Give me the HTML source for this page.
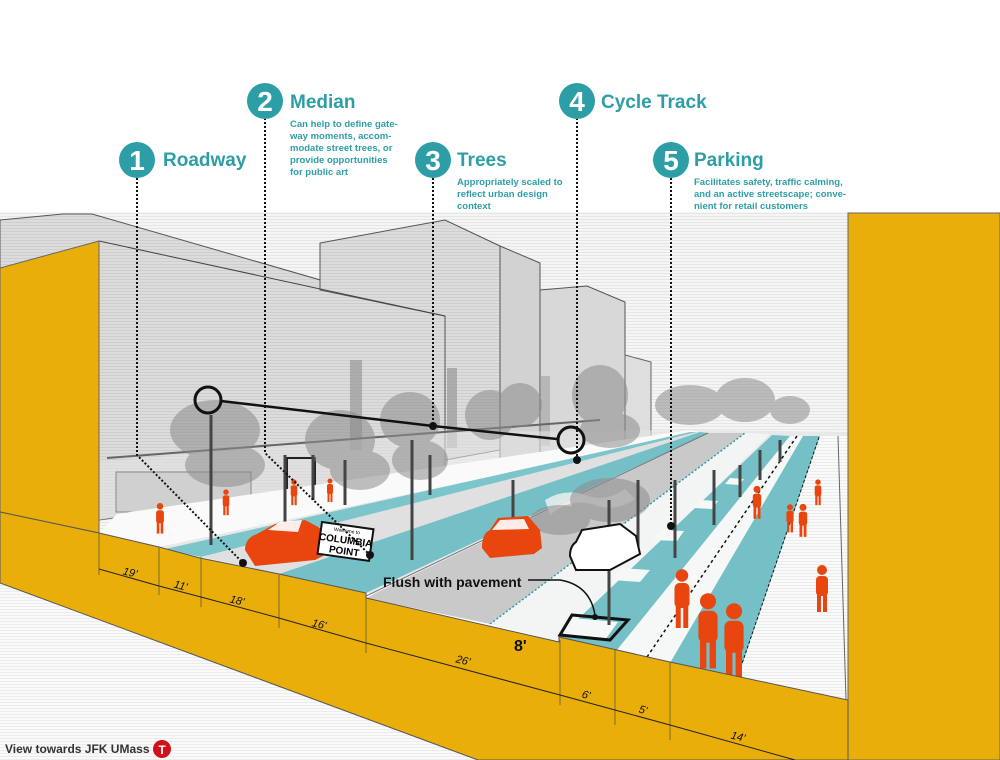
<!DOCTYPE html>
<html><head><meta charset="utf-8"><style>
html,body{margin:0;padding:0;background:#fff;}
svg{display:block;}
.t{font-family:"Liberation Sans",Arial,sans-serif;}
</style></head><body>
<svg width="1000" height="760" viewBox="0 0 1000 760" xmlns="http://www.w3.org/2000/svg">
<defs>
<pattern id="str" width="4" height="3" patternUnits="userSpaceOnUse"><rect width="4" height="3" fill="#f5f5f5"/><rect width="4" height="1" fill="#e6e6e6"/></pattern>
<pattern id="strb" width="4" height="3" patternUnits="userSpaceOnUse"><rect width="4" height="3" fill="#dcdcdc"/><rect width="4" height="1" fill="#cecece"/></pattern>
<pattern id="strw" width="4" height="3" patternUnits="userSpaceOnUse"><rect width="4" height="3" fill="#fafafa"/><rect width="4" height="1" fill="#ececec"/></pattern>
<g id="p"><circle cx="0" cy="-9" r="2.5"/><rect x="-3" y="-6" width="6" height="10" rx="2"/><rect x="-2.5" y="3" width="2" height="9"/><rect x="0.5" y="3" width="2" height="9"/></g>
</defs>
<rect width="1000" height="760" fill="#fff"/>
<rect x="0" y="212" width="848" height="330" fill="url(#str)"/>
<polygon points="0,268 0,220 63,214 92,214 445,316 445,470 99,520 0,520" fill="url(#strb)" stroke="#555" stroke-width="1"/>
<polygon points="320,243 445,220 500,246 500,450 445,460 445,316 320,290" fill="url(#strb)" stroke="#555" stroke-width="1"/>
<polygon points="500,246 540,263 540,455 500,460" fill="#d2d2d2" stroke="#555" stroke-width="1"/>
<polygon points="540,290 587,286 625,302 625,445 540,452" fill="#d8d8d8" stroke="#555" stroke-width="1"/>
<polygon points="625,355 651,362 651,440 625,443" fill="#dedede" stroke="#666" stroke-width="1"/>
<line x1="99" y1="241" x2="445" y2="316" stroke="#444"/>
<rect x="350" y="360" width="12" height="90" fill="#999" opacity=".7"/>
<rect x="447" y="368" width="10" height="80" fill="#999" opacity=".7"/>
<rect x="541" y="376" width="9" height="70" fill="#aaa" opacity=".7"/>
<polygon points="99,462 445,432 690,430 99,520" fill="#e2e2e2" opacity=".6"/>
<line x1="107" y1="458" x2="600" y2="420" stroke="#666" stroke-width="2"/>
<rect x="116" y="472" width="135" height="40" fill="#d0d0d0" stroke="#888" stroke-width="1"/>
<rect x="287" y="458" width="28" height="38" fill="none" stroke="#222" stroke-width="2"/>
<polygon points="287,496 315,494 355,505 300,510" fill="#2e9ea6"/>
<polygon points="99,533 117,514 690,430 848,432 848,700 99,533" fill="#e8e8e8"/>
<polygon points="99,533 117,514 690,430 700,432 159,547" fill="#fafafa"/>
<polygon points="165,549 201,557 697,432 690,432" fill="#7cc6cb"/>
<polygon points="201,557 279,574 700,432 697,432" fill="#e0e0e0"/>
<polygon points="279,574 366,593 708,433 700,432" fill="#74c0c6"/>
<polygon points="366,598 490,624 745,433 708,433" fill="#c9c9c9"/>
<polygon points="490,624 559,642 770,434 745,433" fill="#f3f5f5"/>
<line x1="490" y1="624" x2="745" y2="433" stroke="#2e9ea6" stroke-width="1.5" stroke-dasharray="2,2"/>
<polygon points="559,637 617,650 790,436 772,435" fill="#74c0c6"/>
<polygon points="617,650 670,663 803,436 790,436" fill="#f6f8f8"/>
<line x1="647" y1="657" x2="797" y2="436" stroke="#111" stroke-width="1.5" stroke-dasharray="3,3"/>
<polygon points="670,663 738,677 820,436 803,436" fill="#74c0c6"/>
<line x1="738" y1="677" x2="820" y2="436" stroke="#111" stroke-width="2" stroke-dasharray="3,2"/>
<polygon points="738,677 848,700 848,436 820,436" fill="url(#strw)"/>
<line x1="838" y1="436" x2="846" y2="700" stroke="#666"/>
<line x1="366" y1="596" x2="708" y2="433" stroke="#777" stroke-width="1"/>
<g fill="#f6f8f8">
<polygon points="572,618 618,622 605,640 560,635"/>
<polygon points="620,568 650,570 640,582 612,580"/>
<polygon points="660,530 684,531 677,541 653,540"/>
<polygon points="700,500 718,501 712,509 694,508"/>
<polygon points="730,478 744,479 739,485 725,484"/>
</g>
<polygon points="572,615 628,620 610,640 560,635" fill="none" stroke="#111" stroke-width="3"/>
<path d="M545,500 q20,-12 40,-5 q20,8 40,-6 l10,10 q-20,14 -40,6 q-25,-8 -45,10z" fill="#f2f2f2" opacity=".8"/>
<g fill="#8c8c8c" opacity=".55">
<ellipse cx="215" cy="430" rx="45" ry="30"/><ellipse cx="225" cy="465" rx="40" ry="22"/>
<ellipse cx="340" cy="440" rx="35" ry="30"/><ellipse cx="360" cy="470" rx="30" ry="20"/>
<ellipse cx="410" cy="420" rx="30" ry="28"/><ellipse cx="420" cy="460" rx="28" ry="20"/>
<ellipse cx="490" cy="415" rx="25" ry="25"/><ellipse cx="520" cy="405" rx="22" ry="22"/>
<ellipse cx="600" cy="395" rx="28" ry="30"/><ellipse cx="610" cy="430" rx="30" ry="18"/>
<ellipse cx="690" cy="405" rx="35" ry="20"/><ellipse cx="745" cy="400" rx="30" ry="22"/>
<ellipse cx="790" cy="410" rx="20" ry="14"/>
<ellipse cx="610" cy="500" rx="40" ry="22"/><ellipse cx="560" cy="520" rx="30" ry="15"/>
</g>
<g stroke="#444" stroke-width="3">
<line x1="211" y1="415" x2="211" y2="545"/><line x1="345" y1="460" x2="345" y2="505"/>
<line x1="412" y1="440" x2="412" y2="560"/><line x1="513" y1="480" x2="513" y2="522"/>
<line x1="430" y1="455" x2="430" y2="495"/><line x1="313" y1="455" x2="313" y2="500"/>
<line x1="609" y1="500" x2="609" y2="625"/><line x1="675" y1="480" x2="675" y2="558"/>
<line x1="714" y1="470" x2="714" y2="525"/><line x1="740" y1="465" x2="740" y2="497"/>
<line x1="760" y1="450" x2="760" y2="480"/><line x1="780" y1="440" x2="780" y2="462"/>
<line x1="638" y1="480" x2="638" y2="550"/><line x1="285" y1="455" x2="285" y2="525"/>
</g>
<!-- cars -->
<path d="M245,550 q0,-12 12,-16 l18,-10 l30,-4 l15,8 l3,28 l-8,4 l-60,6 z" fill="#e8450f"/>
<path d="M268,530 l12,-8 l22,-2 l-4,12 z" fill="#fff" opacity=".9"/>
<path d="M482,548 q0,-15 8,-18 l8,-12 l30,-2 l12,14 l2,18 l-8,6 l-44,4 z" fill="#e8450f"/>
<path d="M492,530 l8,-10 l24,-1 l5,10 z" fill="#fff" opacity=".9"/>
<path d="M570,556 q0,-10 6,-14 l6,-12 l38,-6 l16,12 l4,18 l-30,16 l-34,0 z" fill="#fff" stroke="#111" stroke-width="2"/>
<g transform="translate(322,522) rotate(8)"><rect x="0" y="0" width="52" height="32" fill="#fff" stroke="#111" stroke-width="2"/>
<text x="26" y="7" font-size="5" text-anchor="middle" class="t">Welcome to</text>
<text x="26" y="18" font-size="10" font-weight="bold" text-anchor="middle" class="t">COLUMBIA</text>
<text x="26" y="29" font-size="10" font-weight="bold" text-anchor="middle" class="t">POINT</text></g>
<g fill="#e8450f">
<use href="#p" transform="translate(160,518) scale(1.3)"/>
<use href="#p" transform="translate(226,502) scale(1.1)"/>
<use href="#p" transform="translate(294,492) scale(1.1)"/>
<use href="#p" transform="translate(330,490) scale(1)"/>
<use href="#p" transform="translate(682,598) scale(2.5)"/>
<use href="#p" transform="translate(708,630) scale(3.2)"/>
<use href="#p" transform="translate(734,640) scale(3.2)"/>
<use href="#p" transform="translate(822,588) scale(2)"/>
<use href="#p" transform="translate(757,502) scale(1.4)"/>
<use href="#p" transform="translate(790,518) scale(1.2)"/>
<use href="#p" transform="translate(803,520) scale(1.4)"/>
<use href="#p" transform="translate(818,492) scale(1.1)"/>
</g>
<polygon points="0,268 99,241 99,533 0,512" fill="#eaae0a" stroke="#666"/>
<rect x="848" y="213" width="152" height="547" fill="#eaae0a" stroke="#666"/>
<polygon points="0,583 478,760 0,760" fill="url(#strw)"/>
<polygon points="0,512 99,533 159,547 200,558 279,574 366,593 366,598 559,642 559,637 617,650 670,662 848,700 848,760 478,760 0,583" fill="#eaae0a" stroke="#555" stroke-width="1"/>
<g stroke="#7a6a30" stroke-width="1">
<line x1="99" y1="533" x2="99" y2="575"/><line x1="159" y1="547" x2="159" y2="595"/>
<line x1="201" y1="557" x2="201" y2="607"/><line x1="279" y1="574" x2="279" y2="628"/>
<line x1="366" y1="598" x2="366" y2="653"/><line x1="560" y1="640" x2="560" y2="705"/>
<line x1="615" y1="650" x2="615" y2="725"/><line x1="670" y1="662" x2="670" y2="740"/>
</g>
<g stroke="#222" stroke-width="1">
<line x1="99" y1="569" x2="159" y2="586"/><line x1="159" y1="586" x2="201" y2="597"/>
<line x1="201" y1="597" x2="279" y2="618"/><line x1="279" y1="618" x2="366" y2="643"/>
<line x1="366" y1="643" x2="560" y2="695"/><line x1="560" y1="695" x2="615" y2="710"/>
<line x1="615" y1="710" x2="670" y2="725"/><line x1="670" y1="725" x2="795" y2="760"/>
</g>
<g class="t" font-size="11" font-style="italic" fill="#111">
<text x="123" y="576" transform="rotate(14 130 572)">19'</text>
<text x="174" y="589" transform="rotate(14 180 585)">11'</text>
<text x="230" y="604" transform="rotate(14 237 600)">18'</text>
<text x="312" y="628" transform="rotate(14 320 624)">16'</text>
<text x="456" y="664" transform="rotate(14 463 660)">26'</text>
<text x="582" y="699" transform="rotate(14 588 695)">6'</text>
<text x="639" y="714" transform="rotate(14 645 710)">5'</text>
<text x="731" y="740" transform="rotate(14 737 736)">14'</text>
</g>
<text x="514" y="651" font-size="16" font-weight="bold" class="t" fill="#111">8'</text>
<text x="383" y="587" font-size="14" font-weight="bold" class="t" fill="#111">Flush with pavement</text>
<path d="M528,580 L560,580 Q590,585 595,615" fill="none" stroke="#111" stroke-width="1.5"/>
<circle cx="595" cy="617" r="3" fill="#111"/>
<g stroke="#111" stroke-width="2" stroke-dasharray="2,2" fill="none">
<polyline points="137,178 137,455 243,563"/>
<polyline points="265,118 265,453 370,555"/>
<line x1="433" y1="178" x2="433" y2="425"/>
<line x1="577" y1="118" x2="577" y2="458"/>
<line x1="671" y1="178" x2="671" y2="524"/>
</g>
<g fill="#111"><circle cx="243" cy="563" r="4"/><circle cx="370" cy="555" r="4"/><circle cx="433" cy="426" r="4"/><circle cx="577" cy="460" r="4"/><circle cx="671" cy="526" r="4"/></g>
<polyline points="221,401 433,426 557,439" fill="none" stroke="#111" stroke-width="2.5"/>
<circle cx="208" cy="400" r="13" fill="none" stroke="#111" stroke-width="3"/>
<circle cx="571" cy="440" r="13" fill="none" stroke="#111" stroke-width="3"/>
<g class="t" font-weight="bold">
<g fill="#2e9ea6"><circle cx="137" cy="160" r="18"/><circle cx="265" cy="101" r="18"/><circle cx="433" cy="160" r="18"/><circle cx="577" cy="101" r="18"/><circle cx="671" cy="160" r="18"/></g>
<g fill="#fff" font-size="28" text-anchor="middle"><text x="137" y="170">1</text><text x="265" y="111">2</text><text x="433" y="170">3</text><text x="577" y="111">4</text><text x="671" y="170">5</text></g>
<g fill="#2e9ea6" font-size="19"><text x="163" y="166">Roadway</text><text x="290" y="108">Median</text><text x="457" y="166">Trees</text><text x="601" y="108">Cycle Track</text><text x="694" y="166">Parking</text></g>
<g fill="#2e9ea6" font-size="9.5">
<text x="290" y="127">Can help to define gate-</text><text x="290" y="139">way moments, accom-</text><text x="290" y="151">modate street trees, or</text><text x="290" y="163">provide opportunities</text><text x="290" y="175">for public art</text>
<text x="457" y="185">Appropriately scaled to</text><text x="457" y="197">reflect urban design</text><text x="457" y="209">context</text>
<text x="694" y="185">Facilitates safety, traffic calming,</text><text x="694" y="197">and an active streetscape; conve-</text><text x="694" y="209">nient for retail customers</text>
</g>
<text x="5" y="753" font-size="12" fill="#333">View towards JFK UMass</text>
<circle cx="162" cy="749" r="9" fill="#d0101a"/>
<text x="162" y="754" font-size="12" fill="#fff" text-anchor="middle">T</text>
</g>
</svg>
</body></html>
